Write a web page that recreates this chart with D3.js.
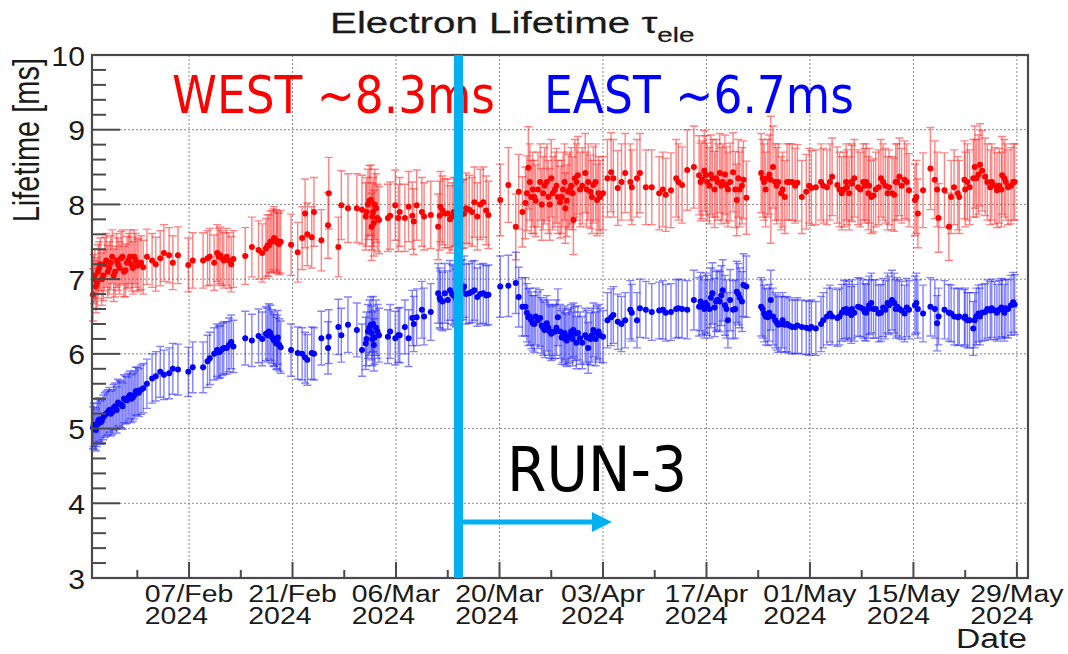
<!DOCTYPE html>
<html><head><meta charset="utf-8">
<script src="https://cdn.jsdelivr.net/npm/d3@7"></script>
<style>body{margin:0;background:#fff}svg{display:block}</style>
</head><body><svg id="c" width="1068" height="654"></svg>
<script>
// ---- data: day of year 2024 (1 = 1 Jan), lifetime [ms] and error ----
const days = [25.0,25.1,25.4,25.7,26.0,26.4,26.8,27.2,27.6,28.0,28.4,28.8,29.2,29.6,30.0,30.4,30.8,31.2,
31.8,32.3,33.0,33.5,34.1,34.6,35.3,35.8,36.5,37.9,38.5,39.9,40.8,41.4,41.8,42.2,42.7,43.1,43.7,44.0,
45.6,46.5,47.4,47.9,48.4,48.8,49.2,49.5,49.8,50.0,50.4,51.8,52.7,53.3,53.7,54.0,54.6,54.9,55.9,56.8,56.9,58.2,
58.6,59.5,60.7,61.4,61.9,62.2,62.6,62.8,63.0,63.3,63.7,64.9,65.2,65.9,66.3,66.5,67.2,67.7,68.2,68.4,
68.8,69.5,69.8,70.7,71.7,72.0,72.6,73.0,73.6,74.1,74.7,75.2,75.9,76.6,77.0,77.8,78.5,
80.1,81.2,82.2,82.6,83.1,83.5,83.9,84.3,84.5,84.9,85.5,85.9,86.4,86.8,87.2,87.7,87.9,88.2,88.6,88.9,
89.3,89.7,90.0,90.4,90.6,90.9,91.6,92.0,92.3,92.7,93.2,93.6,94.0,94.6,95.1,95.4,96.0,96.5,97.0,97.7,
97.9,98.6,99.0,99.8,100.6,101.6,102.1,102.5,103.2,103.9,104.2,104.7,105.4,106.3,107.0,107.4,107.9,108.4,108.8,109.5,
109.8,110.2,110.7,110.9,111.6,112.1,112.5,113.0,113.4,
115.4,115.8,116.3,116.7,117.0,117.3,117.7,118.1,118.6,118.9,119.6,120.0,120.3,120.9,121.5,121.9,122.2,122.8,123.5,123.8,
124.3,124.7,125.0,125.7,126.3,126.6,127.0,127.6,127.7,128.5,129.2,129.4,129.9,130.3,130.6,131.3,131.9,132.2,132.7,133.1,
133.4,133.8,134.1,134.8,135.4,136.2,136.4,136.6,137.3,138.3,138.9,139.2,139.4,140.2,140.8,141.1,141.5,142.0,142.2,142.9,
143.6,144.1,144.3,144.8,145.0,145.7,146.4,146.6,147.3,147.6,148.0,148.5,148.8,149.5,149.7,
// denser runs
25.25,25.55,25.85,26.2,26.6,27.0,27.4,27.8,28.2,28.6,29.0,29.4,29.8,30.2,30.6,31.0,31.5,
40.5,42.0,42.5,43.4,48.6,49.0,49.4,49.9,50.2,62.0,62.4,62.7,62.9,63.1,63.5,
71.9,72.3,73.3,73.8,74.4,75.0,75.5,76.3,77.4,78.2,
83.7,84.1,84.7,85.2,85.7,86.1,86.6,87.0,87.5,88.4,88.8,89.1,89.5,89.9,90.2,91.2,91.8,92.5,93.0,93.4,
107.2,107.7,108.1,108.6,109.1,109.3,110.0,110.5,111.2,111.9,112.3,112.8,
115.6,116.0,116.5,117.5,118.3,119.2,
126.0,126.9,127.3,128.0,128.8,129.6,130.0,130.9,131.6,132.5,133.6,134.4,135.1,
143.0,143.3,144.5,145.3,146.0,147.0,147.9,148.3,149.2];

const westVal = [6.79,7.00,6.90,7.10,7.20,7.05,7.25,7.15,7.30,7.10,7.20,7.28,7.10,7.22,7.30,7.15,7.25,7.20,
7.16,7.30,7.25,7.20,7.28,7.35,7.32,7.22,7.32,7.19,7.25,7.25,7.30,7.22,7.35,7.32,7.25,7.30,7.20,7.27,
7.31,7.43,7.39,7.35,7.41,7.45,7.50,7.55,7.52,7.48,7.50,7.46,7.36,7.55,7.88,7.60,7.56,7.90,7.52,7.72,8.15,7.43,
7.99,7.95,7.95,7.93,7.84,8.00,8.06,7.84,7.75,7.95,7.79,7.82,7.85,7.99,7.82,7.90,7.82,7.97,7.85,7.77,
7.99,7.90,7.84,7.86,7.70,7.97,7.88,7.88,7.84,7.90,7.85,7.88,7.93,8.03,7.84,8.03,7.86,
8.06,8.26,7.70,8.17,7.90,8.02,8.49,8.10,8.20,8.05,8.30,8.15,8.30,8.00,8.15,8.25,8.10,8.03,8.20,7.95,
8.17,8.25,7.79,8.30,8.39,8.20,8.42,8.30,8.17,8.26,8.06,8.10,8.15,8.35,8.43,8.35,8.22,8.30,8.42,8.30,
8.23,8.35,8.42,8.23,8.23,8.15,8.20,8.13,8.19,8.35,8.30,8.26,8.46,8.50,8.39,8.33,8.39,8.25,8.35,8.30,
8.42,8.30,8.26,8.20,8.43,8.06,8.20,8.33,8.09,
8.42,8.30,8.35,8.33,8.50,8.30,8.30,8.15,8.10,8.30,8.30,8.25,8.29,8.10,8.17,8.25,8.22,8.23,8.30,8.25,
8.23,8.30,8.37,8.26,8.15,8.20,8.23,8.30,8.28,8.23,8.30,8.25,8.15,8.10,8.12,8.23,8.30,8.25,8.23,8.15,
8.13,8.30,8.37,8.33,8.19,8.06,8.10,7.88,8.19,8.48,8.33,8.20,7.82,8.19,7.70,8.10,8.23,8.15,8.10,8.33,
8.23,8.35,8.50,8.40,8.53,8.37,8.23,8.30,8.19,8.25,8.39,8.30,8.23,8.30,8.30,
7.05,6.95,7.15,7.00,7.20,7.10,7.22,7.05,7.25,7.15,7.30,7.12,7.25,7.20,7.30,7.18,7.22,
7.28,7.30,7.28,7.25,7.45,7.50,7.52,7.50,7.47,7.90,8.05,7.70,7.90,8.00,7.82,
7.85,7.92,7.80,7.90,7.95,7.87,7.95,7.90,8.00,7.92,
8.15,8.30,8.10,8.20,8.00,8.25,8.10,8.35,8.20,8.10,8.30,8.05,8.20,8.15,8.35,8.25,8.20,8.10,8.30,8.15,
8.30,8.45,8.30,8.40,8.20,8.35,8.25,8.40,8.30,8.20,8.35,8.25,
8.35,8.20,8.40,8.25,8.20,8.30,
8.20,8.30,8.15,8.35,8.20,8.30,8.25,8.20,8.35,8.15,8.30,8.25,8.30,
8.20,8.30,8.35,8.45,8.30,8.25,8.20,8.35,8.25];

const westErr = [0.35,0.33,0.35,0.36,0.35,0.34,0.36,0.35,0.36,0.34,0.35,0.36,0.34,0.35,0.36,0.35,0.36,0.35,
0.36,0.37,0.36,0.36,0.37,0.38,0.37,0.36,0.38,0.36,0.37,0.37,0.38,0.37,0.38,0.38,0.37,0.38,0.37,0.38,
0.38,0.40,0.39,0.39,0.40,0.41,0.42,0.42,0.41,0.41,0.42,0.41,0.40,0.42,0.46,0.42,0.41,0.46,0.41,0.44,0.48,0.40,
0.46,0.46,0.46,0.46,0.45,0.47,0.47,0.45,0.44,0.46,0.45,0.45,0.45,0.47,0.45,0.46,0.45,0.47,0.45,0.44,
0.47,0.46,0.45,0.45,0.44,0.47,0.46,0.46,0.45,0.46,0.45,0.46,0.46,0.47,0.45,0.47,0.45,
0.48,0.50,0.44,0.50,0.47,0.48,0.55,0.49,0.50,0.48,0.51,0.49,0.51,0.48,0.49,0.50,0.49,0.48,0.50,0.47,
0.50,0.51,0.46,0.51,0.52,0.50,0.53,0.51,0.49,0.51,0.48,0.49,0.49,0.52,0.53,0.52,0.50,0.51,0.53,0.51,
0.50,0.52,0.53,0.50,0.50,0.49,0.50,0.49,0.50,0.52,0.51,0.51,0.54,0.55,0.53,0.52,0.53,0.51,0.52,0.51,
0.53,0.51,0.51,0.50,0.53,0.48,0.50,0.52,0.49,
0.53,0.51,0.52,0.85,0.55,0.51,0.51,0.49,0.49,0.51,0.51,0.50,0.51,0.49,0.50,0.50,0.50,0.50,0.51,0.50,
0.50,0.51,0.52,0.51,0.49,0.50,0.50,0.51,0.51,0.50,0.51,0.50,0.49,0.49,0.49,0.50,0.51,0.50,0.50,0.49,
0.49,0.51,0.52,0.52,0.49,0.48,0.49,0.46,0.50,0.55,0.52,0.50,0.46,0.50,0.45,0.49,0.50,0.49,0.49,0.52,
0.50,0.52,0.55,0.53,0.55,0.52,0.50,0.51,0.50,0.50,0.52,0.51,0.50,0.51,0.51,
0.35,0.34,0.35,0.35,0.36,0.35,0.36,0.35,0.36,0.35,0.36,0.35,0.36,0.36,0.36,0.35,0.36,
0.37,0.38,0.37,0.37,0.41,0.41,0.42,0.41,0.41,0.46,0.47,0.45,0.46,0.47,0.45,
0.46,0.46,0.45,0.46,0.46,0.46,0.47,0.46,0.47,0.46,
0.50,0.51,0.49,0.50,0.48,0.51,0.49,0.52,0.50,0.49,0.51,0.48,0.50,0.49,0.52,0.51,0.50,0.49,0.51,0.49,
0.52,0.54,0.52,0.53,0.51,0.52,0.51,0.53,0.52,0.51,0.52,0.51,
0.52,0.50,0.53,0.51,0.50,0.51,
0.50,0.51,0.49,0.52,0.50,0.51,0.50,0.50,0.52,0.49,0.51,0.50,0.51,
0.50,0.51,0.52,0.54,0.51,0.51,0.50,0.52,0.51];

const eastVal = [5.01,5.05,4.98,5.10,5.08,5.15,5.20,5.25,5.22,5.30,5.35,5.32,5.40,5.38,5.45,5.42,5.50,5.48,
5.54,5.60,5.67,5.70,5.76,5.72,5.74,5.80,5.79,5.76,5.82,5.82,5.94,6.00,6.05,6.03,6.08,6.08,6.16,6.10,
6.21,6.18,6.24,6.20,6.27,6.30,6.23,6.18,6.14,6.22,6.09,6.05,6.01,6.00,5.95,5.92,6.01,6.00,6.21,6.08,6.23,6.36,
6.25,6.39,6.32,6.05,6.14,6.30,6.39,6.20,6.12,6.35,6.25,6.23,6.30,6.21,6.25,6.25,6.36,6.21,6.48,6.40,
6.49,6.59,6.50,6.56,6.81,6.72,6.81,6.72,6.80,6.75,6.85,6.90,6.81,6.85,6.76,6.81,6.79,
6.90,6.91,6.95,6.76,6.63,6.63,6.49,6.45,6.41,6.50,6.48,6.35,6.41,6.30,6.29,6.35,6.49,6.30,6.25,6.20,
6.23,6.30,6.32,6.15,6.28,6.21,6.25,6.08,6.20,6.32,6.28,6.25,6.23,6.45,6.49,6.52,6.43,6.40,6.45,6.59,
6.55,6.45,6.61,6.59,6.56,6.58,6.59,6.55,6.56,6.60,6.61,6.60,6.59,6.72,6.63,6.65,6.68,6.60,6.81,6.72,
6.70,6.85,6.60,6.45,6.59,6.83,6.75,6.92,6.90,
6.63,6.54,6.49,6.72,6.50,6.45,6.39,6.40,6.39,6.40,6.36,6.36,6.38,6.36,6.35,6.34,6.36,6.34,6.40,6.45,
6.50,6.54,6.50,6.48,6.55,6.59,6.55,6.52,6.60,6.63,6.60,6.56,6.60,6.68,6.60,6.54,6.62,6.59,6.65,6.72,
6.68,6.63,6.60,6.54,6.59,6.65,6.68,6.60,6.54,6.63,6.60,6.41,6.50,6.59,6.55,6.54,6.50,6.49,6.50,6.48,
6.45,6.34,6.45,6.54,6.50,6.56,6.58,6.61,6.55,6.59,6.60,6.61,6.60,6.69,6.66,
5.00,5.05,5.12,5.10,5.18,5.22,5.20,5.28,5.25,5.33,5.30,5.38,5.42,5.40,5.45,5.50,5.52,
5.90,6.02,6.06,6.12,6.25,6.28,6.20,6.16,6.12,6.20,6.35,6.28,6.40,6.22,6.30,
6.75,6.70,6.85,6.78,6.72,6.86,6.80,6.83,6.80,6.78,
6.55,6.50,6.40,6.45,6.38,6.32,6.35,6.27,6.30,6.22,6.28,6.18,6.25,6.20,6.27,6.15,6.22,6.25,6.20,6.30,
6.70,6.60,6.65,6.75,6.62,6.70,6.78,6.65,6.72,6.60,6.80,6.70,
6.60,6.50,6.55,6.42,6.45,6.38,
6.50,6.60,6.58,6.55,6.62,6.55,6.65,6.60,6.55,6.68,6.60,6.58,6.62,
6.50,6.45,6.50,6.55,6.60,6.58,6.62,6.55,6.65];

const eastErr = [0.28,0.29,0.28,0.29,0.29,0.30,0.30,0.30,0.30,0.31,0.31,0.31,0.32,0.31,0.32,0.32,0.32,0.32,
0.33,0.33,0.33,0.33,0.34,0.33,0.34,0.34,0.34,0.33,0.34,0.34,0.35,0.35,0.35,0.35,0.35,0.35,0.36,0.35,
0.36,0.35,0.36,0.36,0.36,0.37,0.36,0.35,0.35,0.36,0.35,0.35,0.35,0.35,0.34,0.34,0.35,0.35,0.36,0.35,0.36,0.37,
0.36,0.37,0.36,0.35,0.35,0.36,0.37,0.36,0.35,0.37,0.36,0.36,0.36,0.36,0.36,0.37,0.36,0.38,0.37,0.37,
0.38,0.38,0.38,0.38,0.40,0.39,0.40,0.39,0.40,0.39,0.40,0.41,0.40,0.40,0.39,0.40,0.40,
0.41,0.41,0.41,0.40,0.39,0.39,0.38,0.38,0.37,0.38,0.38,0.37,0.37,0.36,0.36,0.37,0.38,0.36,0.36,0.35,
0.36,0.36,0.36,0.35,0.36,0.35,0.36,0.34,0.35,0.36,0.36,0.36,0.35,0.37,0.38,0.38,0.37,0.37,0.37,0.39,
0.38,0.37,0.39,0.38,0.38,0.38,0.39,0.38,0.38,0.39,0.39,0.39,0.39,0.40,0.39,0.39,0.40,0.39,0.41,0.40,
0.40,0.41,0.39,0.37,0.39,0.41,0.40,0.42,0.41,
0.39,0.38,0.38,0.40,0.38,0.37,0.37,0.37,0.37,0.37,0.36,0.36,0.37,0.36,0.36,0.36,0.36,0.36,0.37,0.37,
0.38,0.38,0.38,0.38,0.38,0.39,0.38,0.38,0.39,0.39,0.39,0.38,0.39,0.40,0.39,0.38,0.39,0.39,0.39,0.40,
0.40,0.39,0.39,0.38,0.39,0.39,0.40,0.39,0.38,0.39,0.39,0.37,0.38,0.39,0.38,0.38,0.38,0.38,0.38,0.38,
0.37,0.36,0.37,0.38,0.38,0.38,0.39,0.39,0.38,0.39,0.39,0.39,0.39,0.40,0.40,
0.28,0.29,0.29,0.29,0.30,0.30,0.30,0.31,0.31,0.31,0.31,0.32,0.32,0.32,0.32,0.32,0.33,
0.35,0.35,0.35,0.36,0.36,0.37,0.36,0.36,0.35,0.36,0.37,0.36,0.37,0.36,0.36,
0.40,0.39,0.40,0.40,0.39,0.40,0.40,0.41,0.40,0.40,
0.39,0.38,0.38,0.38,0.37,0.37,0.37,0.36,0.36,0.36,0.36,0.35,0.36,0.36,0.36,0.35,0.36,0.36,0.36,0.36,
0.39,0.39,0.40,0.40,0.39,0.40,0.40,0.40,0.41,0.39,0.41,0.40,
0.39,0.38,0.38,0.37,0.37,0.37,
0.38,0.39,0.39,0.38,0.39,0.38,0.39,0.39,0.38,0.40,0.39,0.39,0.39,
0.38,0.37,0.38,0.38,0.39,0.39,0.39,0.38,0.40];

const yTicks = [3,4,5,6,7,8,9,10];
const xTickDays = [38,52,66,80,94,108,122,136,150];
const xTickLabels = ["07/Feb","21/Feb","06/Mar","20/Mar","03/Apr","17/Apr","01/May","15/May","29/May"];
const xTickYears = ["2024","2024","2024","2024","2024","2024","2024","2024","2024"];
const domainDays = [24.87, 151.5];
const runStartDay = 74.45;
const arrowEndDay = 95.2;
const arrowLevel = 3.75;

// ---- layout ----
const M = {l:92, r:1028, t:55, b:578};
const svg = d3.select("#c");
const doy = d => new Date(Date.UTC(2024,0,1) + (d-1)*864e5);
const x = d3.scaleUtc().domain(domainDays.map(doy)).range([M.l, M.r]);
const y = d3.scaleLinear().domain([3,10]).range([M.b, M.t]);
const FONT = "'Liberation Sans', Arial, Helvetica, sans-serif";
const HAND = "'DejaVu Sans', sans-serif";
const TXT = "#1a1a1a";

// grid
const grid = svg.append("g").attr("stroke","#8a8a8a").attr("stroke-width",1).attr("stroke-dasharray","2,2");
grid.selectAll(".gy").data(yTicks.slice(1,-1)).join("line")
  .attr("x1",M.l).attr("x2",M.r).attr("y1",d=>y(d)).attr("y2",d=>y(d));
grid.selectAll(".gx").data(xTickDays).join("line")
  .attr("x1",d=>x(doy(d))).attr("x2",d=>x(doy(d))).attr("y1",M.t).attr("y2",M.b);

// series
function series(vals, errs, col, bar){
  const data = days.map((d,i)=>({d, v:vals[i], e:errs[i]}));
  const g = svg.append("g");
  const eb = g.append("g").attr("stroke",bar).attr("stroke-width",1.4).attr("fill","none");
  eb.selectAll("path").data(data).join("path").attr("d", p=>{
    const cx = x(doy(p.d)), y1 = y(p.v+p.e), y2 = y(p.v-p.e);
    return `M${cx},${y1}V${y2}M${cx-4},${y1}H${cx+4}M${cx-4},${y2}H${cx+4}`;
  });
  g.append("g").attr("fill",col).selectAll("circle").data(data).join("circle")
    .attr("cx",p=>x(doy(p.d))).attr("cy",p=>y(p.v)).attr("r",3);
}
series(westVal, westErr, "#ff0000", "rgba(255,30,30,0.55)");
series(eastVal, eastErr, "#0000ff", "rgba(30,30,255,0.55)");

// axes (ROOT style: ticks inside)
const axCol = "#4a4a4a";
const ax = svg.append("g").attr("stroke",axCol).attr("stroke-width",2);
const yMinor = d3.range(3, 10.001, 0.2).filter(v => Math.abs(v-Math.round(v))>1e-6);
ax.selectAll(".ym").data(yTicks).join("line").attr("x1",M.l).attr("x2",M.l+28).attr("y1",d=>y(d)).attr("y2",d=>y(d));
ax.selectAll(".yn").data(yMinor).join("line").attr("class","yn").attr("x1",M.l).attr("x2",M.l+14).attr("y1",d=>y(d)).attr("y2",d=>y(d));
const xMinor = d3.range(xTickDays[0]-7, domainDays[1], 14).filter(d=>d>domainDays[0]);
ax.selectAll(".xm").data(xTickDays).join("line").attr("class","xm").attr("y1",M.b).attr("y2",M.b-16).attr("x1",d=>x(doy(d))).attr("x2",d=>x(doy(d)));
ax.selectAll(".xn").data(xMinor).join("line").attr("class","xn").attr("y1",M.b).attr("y2",M.b-8).attr("x1",d=>x(doy(d))).attr("x2",d=>x(doy(d)));
svg.append("rect").attr("x",M.l).attr("y",M.t).attr("width",M.r-M.l).attr("height",M.b-M.t)
  .attr("fill","none").attr("stroke",axCol).attr("stroke-width",2.2);

// y tick labels
svg.append("g").selectAll("text").data(yTicks).join("text")
  .attr("transform", d=>`translate(85,${y(d)+10.5}) scale(1.12,1)`)
  .attr("text-anchor","end").attr("font-family",FONT).attr("font-size",27).attr("fill",TXT).text(d=>d);

// x tick labels: one text per tick, two lines, block centred on the tick
xTickDays.forEach((d,i)=>{
  const t = svg.append("text").attr("transform",`translate(${x(doy(d))},602) scale(1.21,1)`)
    .attr("font-family",FONT).attr("font-size",23.5).attr("fill",TXT);
  const t1 = t.append("tspan").attr("x",0).attr("y",0).attr("text-anchor","middle").text(xTickLabels[i]);
  const w = t1.node().getComputedTextLength();
  t.append("tspan").attr("x",-w/2).attr("y",22).attr("text-anchor","start").text(xTickYears[i]);
});

// axis titles
svg.append("text").attr("transform","translate(1027,648) scale(1.2,1)").attr("text-anchor","end")
  .attr("font-family",FONT).attr("font-size",28).attr("fill",TXT).text("Date");
svg.append("text").attr("transform","translate(39,58) scale(1.25,1) rotate(-90)").attr("text-anchor","end")
  .attr("font-family",FONT).attr("font-size",29).attr("fill",TXT).text("Lifetime [ms]");

// title
const tt = svg.append("text").attr("transform","translate(330,33) scale(1.39,1)")
  .attr("font-family",FONT).attr("font-size",29).attr("fill",TXT).attr("stroke",TXT).attr("stroke-width",0.25);
tt.append("tspan").text("Electron Lifetime τ");
tt.append("tspan").attr("font-size",20).attr("dy",9).text("ele");

// annotations
svg.append("text").attr("x",172).attr("y",113).attr("font-family",HAND).attr("font-size",52)
  .attr("textLength",323).attr("lengthAdjust","spacingAndGlyphs").attr("fill","#ff0000").text("WEST ~8.3ms");
svg.append("text").attr("x",544).attr("y",113).attr("font-family",HAND).attr("font-size",52)
  .attr("textLength",310).attr("lengthAdjust","spacingAndGlyphs").attr("fill","#0000ff").text("EAST ~6.7ms");
svg.append("text").attr("x",507).attr("y",491).attr("font-family",HAND).attr("font-size",62)
  .attr("textLength",180).attr("lengthAdjust","spacingAndGlyphs").attr("fill","#000").text("RUN-3");

// run-3 start line and arrow
const rx = x(doy(runStartDay));
svg.append("rect").attr("x",rx-4.5).attr("y",M.t).attr("width",9).attr("height",M.b-M.t).attr("fill","#00b0f0");
const ax2 = x(doy(arrowEndDay)), ay = y(arrowLevel);
svg.append("line").attr("x1",rx+4).attr("x2",ax2-18).attr("y1",ay).attr("y2",ay)
  .attr("stroke","#00b0f0").attr("stroke-width",5);
svg.append("path").attr("d",`M${ax2},${ay}L${ax2-20},${ay-10}L${ax2-20},${ay+10}Z`).attr("fill","#00b0f0");
</script></body></html>
